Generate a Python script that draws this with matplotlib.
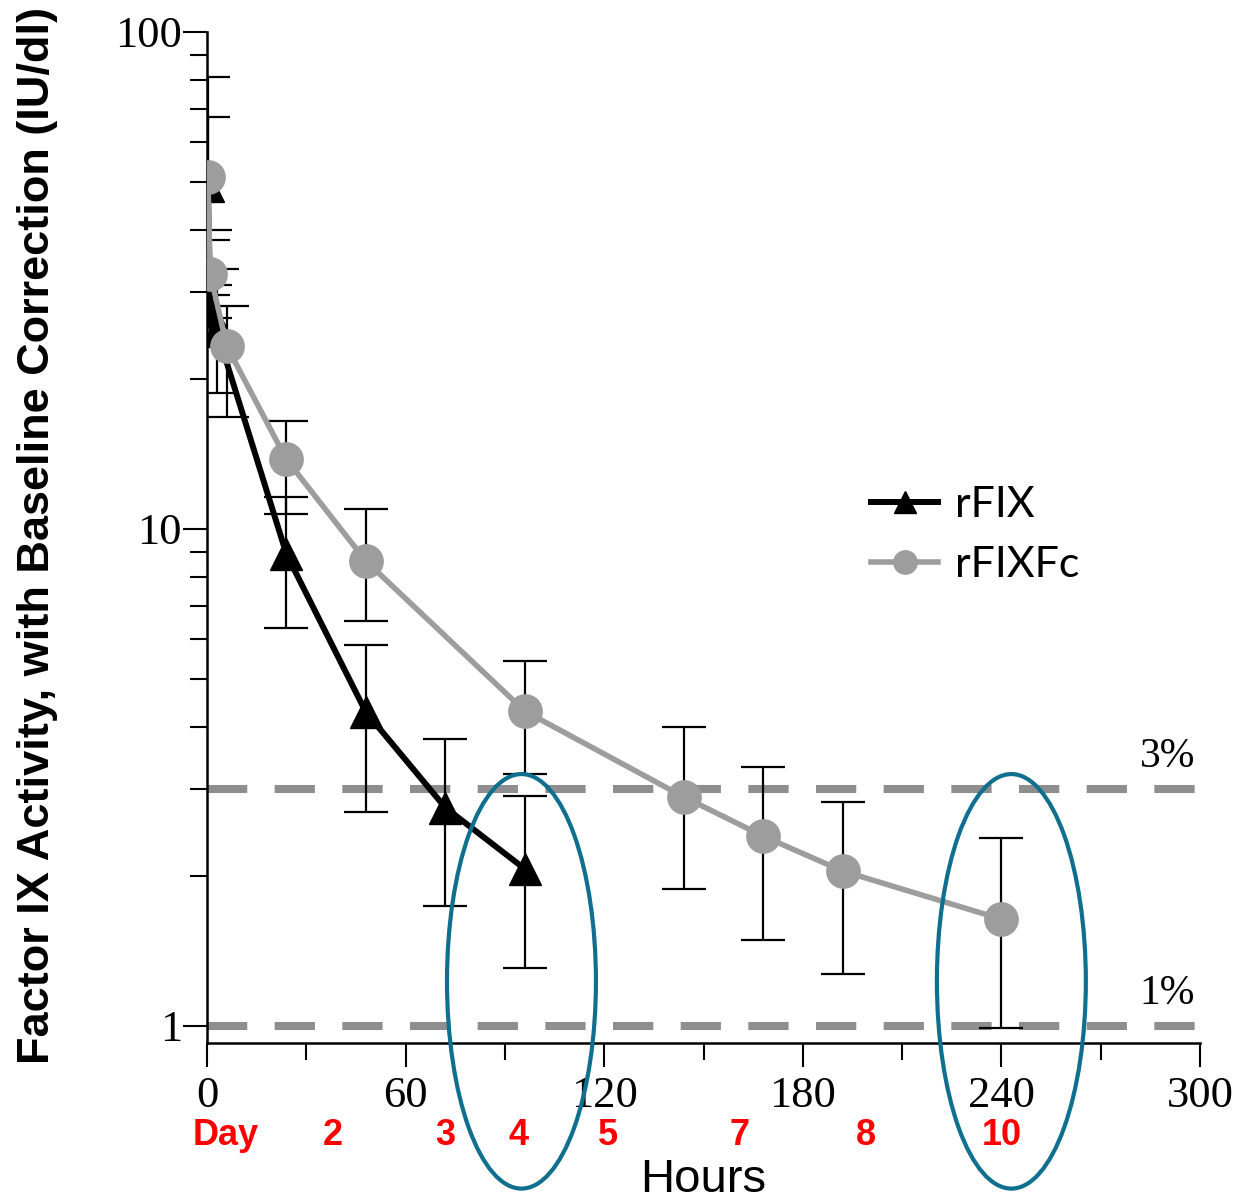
import matplotlib
matplotlib.use("Agg")
import matplotlib.pyplot as plt
import matplotlib.transforms as mtransforms
from matplotlib.patches import Ellipse
from matplotlib.ticker import FixedLocator, LogLocator, NullFormatter

# ---- data (hours, IU/dl) ----
rfix_t = [0.25, 1, 3, 24, 48, 72, 96]
rfix_y = [49.0, 27.4, 25.0, 8.9, 4.28, 2.75, 2.07]
rfix_hi = [81.3, 31.0, 33.4, 11.6, 5.84, 3.78, 2.90]
rfix_lo = [29.5, 24.0, 18.8, 6.32, 2.70, 1.74, 1.31]

rfixfc_t = [0.25, 1, 6, 24, 48, 96, 144, 168, 192, 240]
rfixfc_y = [51.0, 32.6, 23.3, 13.8, 8.62, 4.30, 2.89, 2.41, 2.05, 1.64]
rfixfc_hi = [67.5, 40.0, 28.1, 16.5, 10.97, 5.42, 4.00, 3.32, 2.82, 2.39]
rfixfc_lo = [38.2, 26.6, 16.8, 10.7, 6.53, 3.21, 1.89, 1.49, 1.27, 0.99]

thresholds = [3, 1]
threshold_labels = ["3%", "1%"]

day_pos = [5.7, 38, 72, 94, 121, 161, 199, 240]
day_labels = ["Day", "2", "3", "4", "5", "7", "8", "10"]

circled_hours = [95, 243]

GRAY = "#9d9d9d"
DASH = "#8e8e8e"
BLUE = "#0f6f8f"
TICK_FONT = "Liberation Serif"
LABEL_FONT = "Liberation Sans"

fig = plt.figure(figsize=(12.41, 12.03), dpi=100)
ax = fig.add_axes([0.1668, 0.1330, 0.8002, 0.8404])

# reference levels
for lvl, lab in zip(thresholds, threshold_labels):
    ax.axhline(lvl, color=DASH, lw=5.8, dashes=(5, 3.4), zorder=1)
    ax.text(0.995, lvl * 1.06, lab, transform=ax.get_yaxis_transform(),
            ha="right", va="bottom", fontsize=30, family=TICK_FONT)

# error bars (drawn under the markers)
def yerr(y, lo, hi):
    return [[v - l for v, l in zip(y, lo)], [h - v for v, h in zip(y, hi)]]

ax.errorbar(rfix_t, rfix_y, yerr=yerr(rfix_y, rfix_lo, rfix_hi), fmt="none",
            ecolor="black", elinewidth=1.6, capsize=15.5, capthick=1.6, zorder=2)
ax.errorbar(rfixfc_t, rfixfc_y, yerr=yerr(rfixfc_y, rfixfc_lo, rfixfc_hi), fmt="none",
            ecolor="black", elinewidth=1.6, capsize=15.5, capthick=1.6, zorder=2)

ax.plot(rfix_t, rfix_y, color="black", lw=4.3, marker="^", ms=23,
        label="rFIX", zorder=3)
ax.plot(rfixfc_t, rfixfc_y, color=GRAY, lw=4.0, marker="o", ms=24,
        label="rFIXFc", zorder=4)

ax.set_yscale("log")
ax.set_xlim(0, 300)
ax.set_ylim(0.924, 100)

for side in ("top", "right"):
    ax.spines[side].set_visible(False)
ax.spines["left"].set_linewidth(1.8)
ax.spines["bottom"].set_linewidth(1.8)

ax.xaxis.set_major_locator(FixedLocator([0, 60, 120, 180, 240, 300]))
ax.xaxis.set_minor_locator(FixedLocator([30, 90, 150, 210, 270]))
ax.yaxis.set_major_locator(FixedLocator([1, 10, 100]))
ax.yaxis.set_minor_locator(LogLocator(base=10, subs=range(2, 10)))
ax.yaxis.set_minor_formatter(NullFormatter())
ax.set_yticklabels(["1", "10", "100"])

ax.tick_params(axis="both", which="major", direction="out", length=17, width=1.5,
               labelsize=32)
ax.tick_params(axis="both", which="minor", direction="out", length=12.5, width=1.5)
ax.tick_params(axis="x", which="major", pad=7)
ax.tick_params(axis="y", which="major", pad=1)
for lab in ax.get_xticklabels() + ax.get_yticklabels():
    lab.set_family(TICK_FONT)

ax.set_xlabel("Hours", fontsize=34, family=LABEL_FONT)
ax.xaxis.set_label_coords(0.5, -0.114)
ax.xaxis.label.set_va("top")

fig.text(0.030, 0.555, "Factor IX Activity, with Baseline Correction (IU/dl)",
         rotation=90, ha="center", va="center", fontsize=32.5, fontweight="bold",
         family=LABEL_FONT)

# day markers under the hour axis
day_tr = mtransforms.blended_transform_factory(ax.transData, ax.transAxes)
for x, lab in zip(day_pos, day_labels):
    ax.text(x, -0.091, lab, transform=day_tr, ha="center", va="center",
            color="red", fontsize=26, fontweight="bold",
            family=LABEL_FONT, clip_on=False)

# highlight ellipses
for x in circled_hours:
    ax.add_patch(Ellipse((x, 0.061), width=45, height=0.41, transform=day_tr,
                         fill=False, edgecolor=BLUE, lw=3, clip_on=False, zorder=6))

leg = ax.legend(loc="upper left", bbox_to_anchor=(0.630, 0.589), frameon=False,
                handlelength=1.55, handletextpad=0.4, labelspacing=0.5,
                markerscale=0.7, prop={"family": "Lato", "size": 31})

fig.savefig("out.png", dpi=100, facecolor="white")
